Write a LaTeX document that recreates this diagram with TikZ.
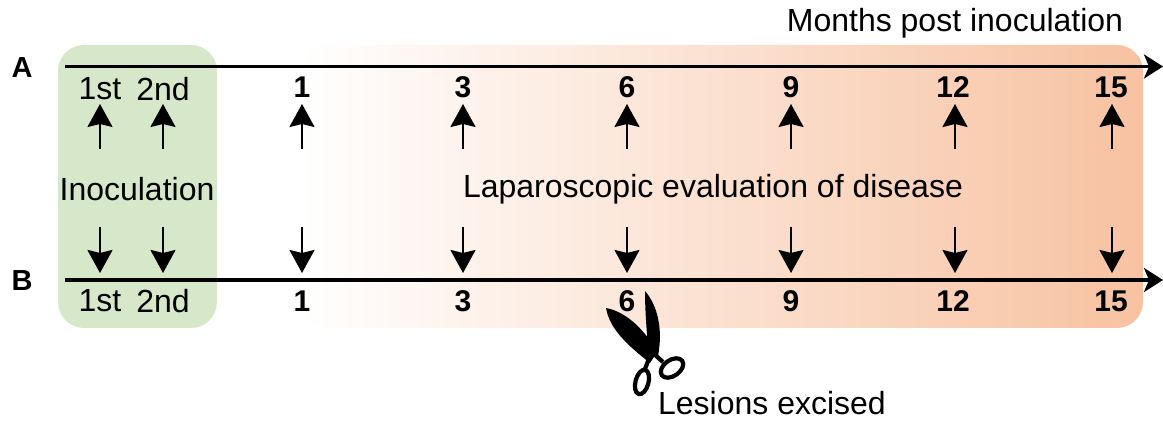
\documentclass[tikz,border=0pt]{standalone}
\usepackage{fontspec}
\setmainfont{Liberation Sans}
\usetikzlibrary{arrows.meta}
\definecolor{greenbox}{HTML}{D6E8C9}
\definecolor{orangeend}{HTML}{F7C2A1}
\tikzset{
  px/.style={x=1pt,y=-1pt},
  axis/.style={line width=3.2pt,-{Stealth[length=19pt,width=24pt,inset=5pt]}},
  tick/.style={line width=2.3pt,-{Stealth[length=23pt,width=25pt,inset=3pt]}},
  lbl/.style={font=\fontsize{32}{34}\selectfont,inner sep=0pt},
  num/.style={font=\fontsize{30}{32}\selectfont\bfseries,inner sep=0pt},
  rowlbl/.style={font=\fontsize{29}{31}\selectfont\bfseries,inner sep=0pt},
  loop/.style={line width=4.2pt},
}
\begin{document}
\begin{tikzpicture}[px]
\useasboundingbox (0,0) rectangle (1163,422);
% backgrounds
\fill[greenbox,rounded corners=26pt] (58,45) rectangle (217,328);
\shade[left color=white,right color=orangeend,rounded corners=26pt] (300,45) rectangle (1143,328);
% row labels
\node[rowlbl] (rA) at (22,68) {A};
\node[rowlbl] (rB) at (22,281) {B};
% axes
\coordinate (a0) at (65,66.5);
\coordinate (a1) at (1163,66.5);
\coordinate (b0) at (65,280);
\coordinate (b1) at (1163,280);
\draw[axis] (a0) -- (a1);
\draw[axis] (b0) -- (b1);
% top labels
\node[lbl] (t1st) at (100,89) {1st};
\node[lbl] (t2nd) at (163,89) {2nd};
\node[lbl] (b1st) at (100,301) {1st};
\node[lbl] (b2nd) at (163,301) {2nd};
\foreach \n/\x in {1/302,3/463,6/627,9/791,12/953,15/1111}{
  \node[num] (t\n) at (\x,87.5) {\n};
  \node[num] (b\n) at (\x,301) {\n};
}
% arrows
\foreach \x [count=\i] in {100,163,302,463,627,791,955,1112}{
  \coordinate (us\i) at (\x,149);
  \coordinate (ue\i) at (\x,104);
  \coordinate (ds\i) at (\x,227);
  \coordinate (de\i) at (\x,273);
  \draw[tick] (us\i) -- (ue\i);
  \draw[tick] (ds\i) -- (de\i);
}
% middle labels
\node[lbl] (inoc) at (137,189) {Inoculation};
\node[lbl] (lap) at (713,189) {Laparoscopic evaluation of disease};
\node[lbl] (months) at (955,23) {Months post inoculation};
\node[lbl] (les) at (772,403) {Lesions excised};
% scissors
\fill (606,308) .. controls (628,312) and (647,333) .. (657,352)
  -- (650,363) .. controls (634,350) and (610,332) .. cycle;
\fill (645,291) .. controls (658,306) and (663,330) .. (658,356)
  -- (649,358) .. controls (647,336) and (645,312) .. cycle;
\draw[line width=4.2pt] (650,356) -- (645,369);
\draw[line width=4.2pt] (654,354) -- (663,362);
\draw[loop,rotate around={-15:(642,382)}] (642,382) ellipse [x radius=6.5, y radius=12.5];
\draw[loop,rotate around={35:(672,368)}] (672,368) ellipse [x radius=12.5, y radius=8];
\end{tikzpicture}
\end{document}
